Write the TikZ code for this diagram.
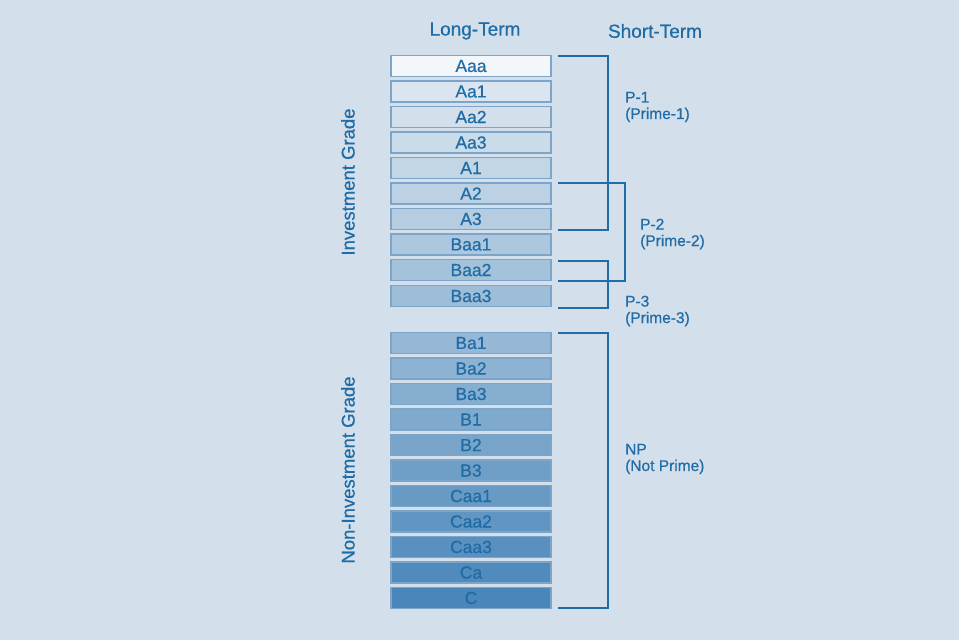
\documentclass[tikz,border=0pt]{standalone}
\usepackage{fontspec}
\setmainfont[FakeBold=0.6,BoldFont={Liberation Sans}]{Liberation Sans}
\definecolor{bg}{HTML}{D3DFEA}
\definecolor{ink}{HTML}{1F6CA6}
\definecolor{lo}{HTML}{DAE5EF}
\definecolor{hi}{HTML}{4A86B9}
\definecolor{edge}{HTML}{7DA4C9}
\tikzset{x=1pt,y=-1pt,
 rbox/.style={draw=edge,line width=1.8pt,minimum width=160pt,minimum height=21pt,inner sep=0pt,text=ink,font=\fontsize{17.5}{17.5}\selectfont\bfseries},
 brk/.style={draw=ink,line width=2.4pt},
 lbl/.style={text=ink,font=\fontsize{15.5}{16.5}\selectfont\bfseries,align=left,anchor=west,inner sep=0pt},
 hdr/.style={text=ink,font=\fontsize{19}{19}\selectfont\bfseries,inner sep=0pt},
 vhdr/.style={text=ink,font=\fontsize{18.5}{18.5}\selectfont\bfseries,inner sep=0pt,rotate=90}}
\begin{document}
\begin{tikzpicture}
\fill[bg] (0,0) rectangle (959,640);
\useasboundingbox (0,0) rectangle (959,640);
\node[hdr] (lt) at (475,31) {Long-Term};
\node[hdr] (st) at (655,31) {Short-Term};
\node[rbox,fill=white!70!lo] (r0) at (471,66) {Aaa};
\foreach \n/\t/\yy in {1/Aa1/91.5,2/Aa2/117,3/Aa3/142.5,4/A1/168,5/A2/193.5,6/A3/219,7/Baa1/244.5,8/Baa2/270,9/Baa3/296,10/Ba1/343,11/Ba2/368.5,12/Ba3/394,13/B1/419.5,14/B2/445,15/B3/470.5,16/Caa1/496,17/Caa2/521.5,18/Caa3/547,19/Ca/572.5,20/C/598}{
 \pgfmathtruncatemacro\pc{round((\n-1)*100/19)}
 \node[rbox,fill=hi!\pc!lo] (r\n) at (471,\yy) {\t};
}
\node[vhdr] (ig) at (348,182) {Investment Grade};
\node[vhdr] (nig) at (348,470) {Non-Investment Grade};
% brackets
\coordinate (p1a) at (558,56); \coordinate (p1b) at (558,230);
\draw[brk] (p1a) -| (608,230) -- (p1b);
\coordinate (p2a) at (558,183); \coordinate (p2b) at (558,281);
\draw[brk] (p2a) -| (625,281) -- (p2b);
\coordinate (p3a) at (558,261); \coordinate (p3b) at (558,308);
\draw[brk] (p3a) -| (608,308) -- (p3b);
\coordinate (npa) at (558,333); \coordinate (npb) at (558,608);
\draw[brk] (npa) -| (608,608) -- (npb);
\node[lbl] (l1) at (625,107) {P-1\\(Prime-1)};
\node[lbl] (l2) at (640,234) {P-2\\(Prime-2)};
\node[lbl] (l3) at (625,311) {P-3\\(Prime-3)};
\node[lbl] (l4) at (625,459) {NP\\(Not Prime)};
\end{tikzpicture}
\end{document}
